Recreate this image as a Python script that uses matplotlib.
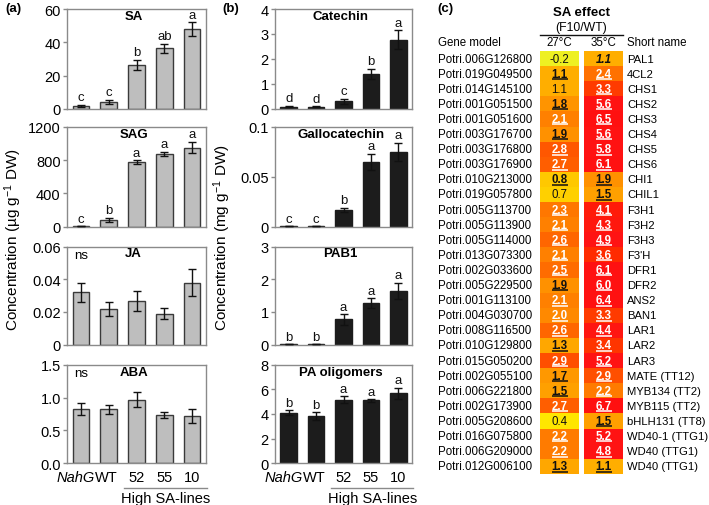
import matplotlib
matplotlib.use('Agg')
import matplotlib.pyplot as plt
import numpy as np
import matplotlib.transforms as mtransforms
from matplotlib.colors import LinearSegmentedColormap, Normalize

plt.rcParams['font.family'] = ['Liberation Sans', 'DejaVu Sans']
plt.rcParams['mathtext.fontset'] = 'custom'
plt.rcParams['mathtext.rm'] = 'Liberation Sans'
plt.rcParams['mathtext.it'] = 'Liberation Sans:italic'
plt.rcParams['mathtext.bf'] = 'Liberation Sans:bold'

# ---------------- data ----------------
lines = ['NahG', 'WT', '52', '55', '10']

sa_mean = [2.0, 4.5, 26.5, 36.5, 48.0]
sa_err = [0.5, 1.2, 3.0, 2.8, 4.0]
sa_letters = ['c', 'c', 'b', 'ab', 'a']

sag_mean = [5, 85, 775, 875, 950]
sag_err = [2, 25, 25, 25, 70]
sag_letters = ['c', 'b', 'a', 'a', 'a']

ja_mean = [0.032, 0.022, 0.0265, 0.019, 0.038]
ja_err = [0.006, 0.0042, 0.0062, 0.0035, 0.008]
ja_letters = ['', '', '', '', '']

aba_mean = [0.82, 0.82, 0.97, 0.73, 0.72]
aba_err = [0.09, 0.07, 0.12, 0.045, 0.1]
aba_letters = ['', '', '', '', '']

cat_mean = [0.10, 0.09, 0.32, 1.42, 2.78]
cat_err = [0.03, 0.02, 0.10, 0.20, 0.38]
cat_letters = ['d', 'd', 'c', 'b', 'a']

gal_mean = [0.0008, 0.0008, 0.017, 0.065, 0.075]
gal_err = [0.0, 0.0, 0.0022, 0.008, 0.009]
gal_letters = ['c', 'c', 'b', 'a', 'a']

pab_mean = [0.02, 0.02, 0.77, 1.28, 1.65]
pab_err = [0.0, 0.0, 0.17, 0.15, 0.25]
pab_letters = ['b', 'b', 'a', 'a', 'a']

pao_mean = [4.1, 3.85, 5.15, 5.1, 5.7]
pao_err = [0.22, 0.3, 0.28, 0.1, 0.45]
pao_letters = ['b', 'b', 'a', 'a', 'a']

sa_ticks = [0, 20, 40, 60]
sag_ticks = [0, 400, 800, 1200]
ja_ticks = [0, 0.02, 0.04, 0.06]
ja_ticklabels = ['0', '0.02', '0.04', '0.06']
aba_ticks = [0.0, 0.5, 1.0, 1.5]
aba_ticklabels = ['0.0', '0.5', '1.0', '1.5']
cat_ticks = [0, 1, 2, 3, 4]
gal_ticks = [0, 0.05, 0.1]
gal_ticklabels = ['0', '0.05', '0.1']
pab_ticks = [0, 1, 2, 3]
pao_ticks = [0, 2, 4, 6, 8]

gene_models = ['Potri.006G126800', 'Potri.019G049500', 'Potri.014G145100', 'Potri.001G051500',
               'Potri.001G051600', 'Potri.003G176700', 'Potri.003G176800', 'Potri.003G176900',
               'Potri.010G213000', 'Potri.019G057800', 'Potri.005G113700', 'Potri.005G113900',
               'Potri.005G114000', 'Potri.013G073300', 'Potri.002G033600', 'Potri.005G229500',
               'Potri.001G113100', 'Potri.004G030700', 'Potri.008G116500', 'Potri.010G129800',
               'Potri.015G050200', 'Potri.002G055100', 'Potri.006G221800', 'Potri.002G173900',
               'Potri.005G208600', 'Potri.016G075800', 'Potri.006G209000', 'Potri.012G006100']
short_names = ['PAL1', '4CL2', 'CHS1', 'CHS2', 'CHS3', 'CHS4', 'CHS5', 'CHS6', 'CHI1', 'CHIL1',
               'F3H1', 'F3H2', 'F3H3', "F3'H", 'DFR1', 'DFR2', 'ANS2', 'BAN1', 'LAR1', 'LAR2',
               'LAR3', 'MATE (TT12)', 'MYB134 (TT2)', 'MYB115 (TT2)', 'bHLH131 (TT8)',
               'WD40-1 (TTG1)', 'WD40 (TTG1)', 'WD40 (TTG1)']
effect_27 = [-0.2, 1.1, 1.1, 1.8, 2.1, 1.9, 2.8, 2.7, 0.8, 0.7, 2.3, 2.1, 2.6, 2.1, 2.5, 1.9,
             2.1, 2.0, 2.6, 1.3, 2.9, 1.7, 1.5, 2.7, 0.4, 2.2, 2.2, 1.3]
effect_35 = [1.1, 2.4, 3.3, 5.6, 6.5, 5.6, 5.8, 6.1, 1.9, 1.5, 4.1, 4.3, 4.9, 3.6, 6.1, 6.0,
             6.4, 3.3, 4.4, 3.4, 5.2, 2.9, 2.2, 6.7, 1.5, 5.2, 4.8, 1.1]
# s = significant (bold, underlined), n = not significant, m = marginal (bold italic)
sig_27 = ['n', 's', 'n', 's', 's', 's', 's', 's', 's', 'n', 's', 's', 's', 's', 's', 's',
          's', 's', 's', 's', 's', 's', 's', 's', 'n', 's', 's', 's']
sig_35 = ['m'] + ['s'] * 27

# ---------------- figure ----------------
W, H, DPI = 709, 506, 100
fig = plt.figure(figsize=(W / DPI, H / DPI), dpi=DPI)


def add_ax(l, t, r, b):
    return fig.add_axes([l / W, 1 - b / H, (r - l) / W, (b - t) / H])


rows_px = [(10, 110), (127.7, 227.7), (247.5, 345.7), (365.7, 464.3)]
SPINE = '#8a8a8a'
TICKFS = 10.5


def bar_panel(ax, means, errs, letters, ylim, ticks, ticklabels, title, fc, ec, ns=False):
    x = np.arange(len(means))
    ax.bar(x, means, width=0.6, color=fc, edgecolor=ec, linewidth=1.0, zorder=2)
    ax.errorbar(x, means, yerr=errs, fmt='none', ecolor='#111111', elinewidth=1.0,
                capsize=3, capthick=1.0, zorder=3)
    for xi, m, e, l in zip(x, means, errs, letters):
        if l:
            ax.annotate(l, (xi, m + e), xytext=(0, 1.0), textcoords='offset points',
                        ha='center', va='bottom', fontsize=9.5, color='#111111')
    ax.set_xlim(-0.5, 4.5)
    ax.set_ylim(*ylim)
    ax.set_yticks(ticks)
    if ticklabels is not None:
        ax.set_yticklabels(ticklabels)
    ax.set_xticks([])
    for s in ax.spines.values():
        s.set_color(SPINE)
        s.set_linewidth(1.0)
    ax.tick_params(axis='y', direction='out', length=3, width=1, color=SPINE,
                   labelsize=TICKFS, pad=1.5)
    ax.text(0.48, 0.93, title, transform=ax.transAxes, ha='center', va='center',
            fontsize=9.5, fontweight='bold')
    if ns:
        ax.text(0, 0.915, 'ns', transform=mtransforms.blended_transform_factory(ax.transData, ax.transAxes),
                ha='center', va='center', fontsize=9.5)


def bottom_labels(ax):
    ax.set_xticks(range(5))
    ax.set_xticklabels(lines, fontsize=TICKFS)
    ax.tick_params(axis='x', length=0, pad=5)
    labs = ax.get_xticklabels()
    labs[0].set_style('italic')
    for lab, dx in zip(labs, [-5, -2, 0, 0, 0]):
        lab.set_transform(lab.get_transform() +
                          mtransforms.ScaledTranslation(dx / DPI, 0, fig.dpi_scale_trans))
    tr = mtransforms.blended_transform_factory(ax.transData, ax.transAxes)
    ax.plot([1.55, 4.55], [-0.255, -0.255], transform=tr, color=SPINE, lw=1.0, clip_on=False)
    ax.text(3.05, -0.355, 'High SA-lines', transform=tr, ha='center', va='center', fontsize=TICKFS)


# panel (a)
GRAY = '#bebebe'
EDGE = '#3a3a3a'
panel_a = [
    (sa_mean, sa_err, sa_letters, (0, 60), sa_ticks, None, 'SA', False),
    (sag_mean, sag_err, sag_letters, (0, 1200), sag_ticks, None, 'SAG', False),
    (ja_mean, ja_err, ja_letters, (0, 0.06), ja_ticks, ja_ticklabels, 'JA', True),
    (aba_mean, aba_err, aba_letters, (0, 1.5), aba_ticks, aba_ticklabels, 'ABA', True),
]
for (t, b), spec in zip(rows_px, panel_a):
    ax = add_ax(67, t, 206, b)
    m, e, l, yl, tk, tl, title, ns = spec
    bar_panel(ax, m, e, l, yl, tk, tl, title, GRAY, EDGE, ns)
bottom_labels(ax)

# panel (b)
DARK = '#1c1c1c'
panel_b = [
    (cat_mean, cat_err, cat_letters, (0, 4), cat_ticks, None, 'Catechin'),
    (gal_mean, gal_err, gal_letters, (0, 0.1), gal_ticks, gal_ticklabels, 'Gallocatechin'),
    (pab_mean, pab_err, pab_letters, (0, 3), pab_ticks, None, 'PAB1'),
    (pao_mean, pao_err, pao_letters, (0, 8), pao_ticks, None, 'PA oligomers'),
]
for (t, b), spec in zip(rows_px, panel_b):
    ax = add_ax(275, t, 412, b)
    m, e, l, yl, tk, tl, title = spec
    bar_panel(ax, m, e, l, yl, tk, tl, title, DARK, DARK)
bottom_labels(ax)

fig.text(13 / W, 1 - 240 / H, r'Concentration (µg g$^{-1}$ DW)', rotation=90,
         ha='center', va='center', fontsize=11)
fig.text(222 / W, 1 - 238 / H, r'Concentration (mg g$^{-1}$ DW)', rotation=90,
         ha='center', va='center', fontsize=11)

fig.text(5 / W, 1 - 9 / H, '(a)', fontsize=9.5, fontweight='bold', ha='left', va='center')
fig.text(222 / W, 1 - 9 / H, '(b)', fontsize=9.5, fontweight='bold', ha='left', va='center')
fig.text(437 / W, 1 - 9 / H, '(c)', fontsize=9.5, fontweight='bold', ha='left', va='center')

# panel (c) table: x in pixel units, y in row units
ROW0, ROWH = 52.0, 15.1
n = len(gene_models)
axc = fig.add_axes([430 / W, 0, (W - 430) / W, 1])
axc.set_xlim(430, W)
axc.set_ylim(n - 0.5 + (H - (ROW0 + n * ROWH)) / ROWH, -0.5 - ROW0 / ROWH)
axc.axis('off')


def py(px):
    return (px - ROW0) / ROWH - 0.5


cmap_vals = [-0.2, 0.4, 0.8, 1.1, 1.5, 1.9, 2.1, 2.5, 2.9, 3.3, 3.8, 4.5, 6.7]
cmap_cols = ['#EEF022', '#FFE600', '#FFC800', '#FFAE00', '#FFA000', '#FF9000', '#FF8000',
             '#FF6C00', '#FF5000', '#FF3A00', '#FF2000', '#FF1414', '#FF1010']
vmin, vmax = cmap_vals[0], cmap_vals[-1]
cmap = LinearSegmentedColormap.from_list(
    'sa', [((v - vmin) / (vmax - vmin), c) for v, c in zip(cmap_vals, cmap_cols)])
norm = Normalize(vmin, vmax)

yedges = np.arange(n + 1) - 0.5
cols = [(540, 579, effect_27, sig_27), (584, 623, effect_35, sig_35)]
FS = 8.1
for x0, x1, vals, sig in cols:
    axc.pcolormesh([x0, x1], yedges, np.array(vals).reshape(-1, 1), cmap=cmap, norm=norm)
    cx = (x0 + x1) / 2
    for i, (v, s) in enumerate(zip(vals, sig)):
        tc = 'white' if v >= 2.0 else '#111111'
        weight = 'bold' if s in ('s', 'm') else 'normal'
        style = 'italic' if s == 'm' else 'normal'
        axc.text(cx, i, f'{v:.1f}', ha='center', va='center', fontsize=FS + 0.2,
                 fontweight=weight, fontstyle=style, color=tc)
        if s == 's':
            axc.plot([cx - 8, cx + 8], [i + 0.36, i + 0.36], color=tc, lw=1.1,
                     solid_capstyle='butt')

for i, (g, s) in enumerate(zip(gene_models, short_names)):
    axc.text(438, i, g, ha='left', va='center', fontsize=FS + 0.2)
    axc.text(627, i, s, ha='left', va='center', fontsize=FS)

axc.text(581.5, py(13), 'SA effect', ha='center', va='center', fontsize=9.5, fontweight='bold')
axc.text(581.5, py(28), '(F10/WT)', ha='center', va='center', fontsize=8.8)
axc.plot([540, 623], [py(36), py(36)], color='#111111', lw=1.0)
axc.text(438, py(43.5), 'Gene model', ha='left', va='center', fontsize=FS + 0.2)
axc.text(559.5, py(43.5), '27°C', ha='center', va='center', fontsize=FS + 0.2)
axc.text(603.5, py(43.5), '35°C', ha='center', va='center', fontsize=FS + 0.2)
axc.text(627, py(43.5), 'Short name', ha='left', va='center', fontsize=FS + 0.2)

fig.savefig('out.png', dpi=DPI)
